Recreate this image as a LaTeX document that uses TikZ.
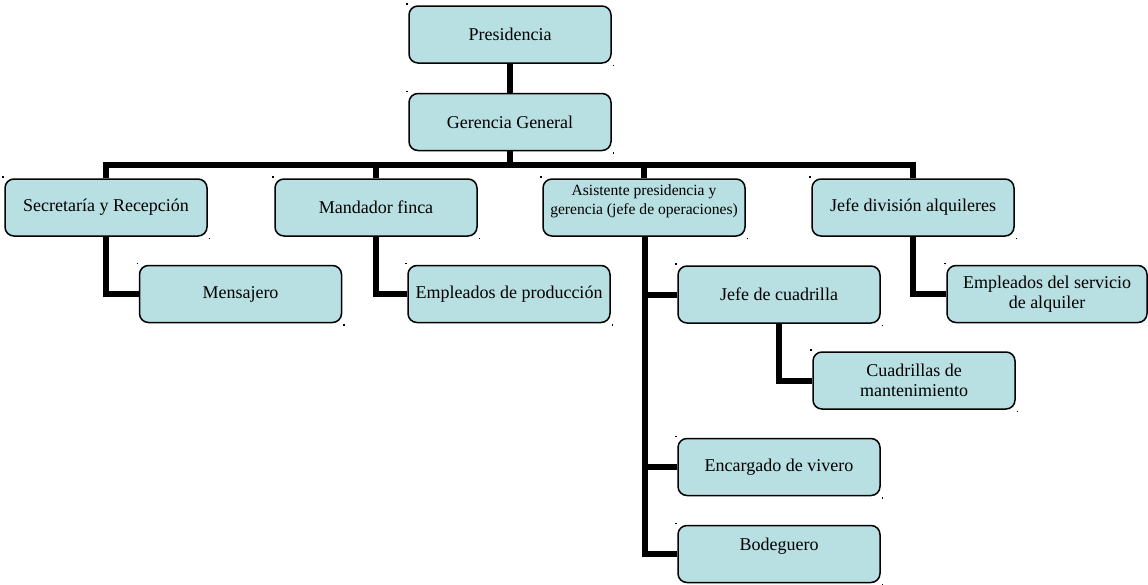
\documentclass[tikz,border=0pt]{standalone}
\usepackage{fontspec}
\setmainfont{Liberation Serif}
\definecolor{boxfill}{RGB}{184,223,226}
\begin{document}
\begin{tikzpicture}[x=1pt,y=1pt,
  orgbox/.style={draw=black, line width=1.5pt, fill=boxfill, rounded corners=9pt,
    minimum width=202pt, minimum height=57pt, inner sep=0pt, align=center,
    font=\fontsize{18}{20}\selectfont},
  boxtext/.style={inner sep=0pt, align=center, font=\fontsize{18}{20}\selectfont},
  conn/.style={draw=black, line width=6pt}]
\useasboundingbox (0,0) rectangle (1148,-584);

% boxes, top to bottom
\node[orgbox] (pres)  at (510,-34.5) {Presidencia};
\node[orgbox] (ger)   at (510,-122)  {Gerencia General};
\node[orgbox] (sec)   at (106,-207.5) {Secretaría y Recepción};
\node[orgbox] (man)   at (376,-207.5) {Mandador finca};
\node[orgbox] (asi)   at (644,-207.5) {};
\node[boxtext, font=\fontsize{15.6}{19}\selectfont] (asit) at (644,-201)
  {Asistente presidencia y\\gerencia (jefe de operaciones)};
\node[orgbox] (jdiv)  at (913,-207.5) {Jefe división alquileres};
\node[orgbox] (men)   at (240.5,-294) {Mensajero};
\node[orgbox] (prod)  at (509,-294)  {Empleados de producción};
\node[orgbox] (jcuad) at (779,-294.5) {Jefe de cuadrilla};
\node[orgbox, minimum width=200pt] (serv) at (1047,-294) {Empleados del servicio\\de alquiler};
\node[orgbox] (cuad)  at (914,-380.5) {Cuadrillas de\\mantenimiento};
\node[orgbox] (enc)   at (779,-467)  {Encargado de vivero};
\node[orgbox] (bod)   at (779,-554)  {};
\node[boxtext] (bodt) at (779,-546) {Bodeguero};

% small frame handles at the corners of each box
\foreach \n in {pres,ger,sec,man,asi,jdiv,men,prod,jcuad,serv,cuad,enc,bod}{
  \fill ([shift={(-2.2,2.2)}]\n.north west) rectangle ++(1.6,-1.6);
  \fill ([shift={(0.8,-0.8)}]\n.south east) rectangle ++(1.6,-1.6);
}

% connectors
\coordinate (bus) at (510,-165);
\draw[conn] (pres.south) -- (ger.north);
\draw[conn] (ger.south) -- (bus);
\draw[conn] (sec.north) |- (bus) -| (jdiv.north);
\draw[conn] (man.north) -- (man.north |- bus);
\draw[conn] (asi.north) -- (asi.north |- bus);
\draw[conn] (sec.south) |- (men.west);
\draw[conn] (man.south) |- (prod.west);
\draw[conn] (jdiv.south) |- (serv.west);
\draw[conn] (jcuad.south) |- (cuad.west);
\draw[conn] ([xshift=1pt]asi.south) |- (bod.west);
\draw[conn] ([xshift=1pt]asi.south |- jcuad.west) -- (jcuad.west);
\draw[conn] ([xshift=1pt]asi.south |- enc.west) -- (enc.west);
\end{tikzpicture}
\end{document}
